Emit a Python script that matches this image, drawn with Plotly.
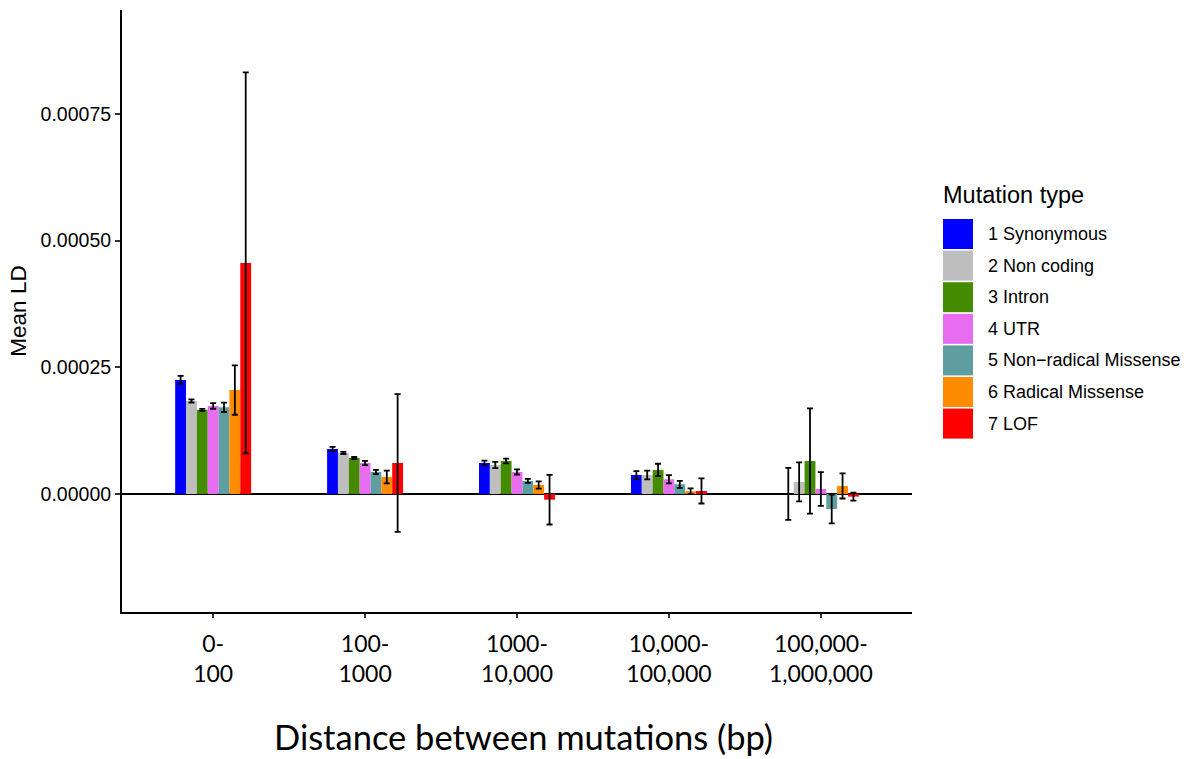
import plotly.graph_objects as go

categories = ["0-<br>100", "100-<br>1000", "1000-<br>10,000", "10,000-<br>100,000", "100,000-<br>1,000,000"]
series_names = ["1 Synonymous", "2 Non coding", "3 Intron", "4 UTR",
                "5 Non\u2212radical Missense", "6 Radical Missense", "7 LOF"]
series_colors = ["#0000FF", "#BEBEBE", "#458B00", "#E86CF0", "#5F9EA0", "#FF8C00", "#FF0000"]

synonymous = [0.000225, 0.0000888, 0.0000612, 0.0000375, 0.0]
synonymous_err = [0.000008, 0.000004, 0.0000046, 0.0000076, 0.0000513]
non_coding = [0.0001835, 0.0000809, 0.0000572, 0.0000375, 0.0000237]
non_coding_err = [0.000003, 0.000002, 0.0000062, 0.0000086, 0.0000385]
intron = [0.000166, 0.000071, 0.0000651, 0.0000474, 0.0000651]
intron_err = [0.000002, 0.000002, 0.0000046, 0.0000122, 0.000104]
utr = [0.0001737, 0.0000612, 0.0000434, 0.000029, 0.0000099]
utr_err = [0.0000055, 0.0000043, 0.000005, 0.0000082, 0.0000332]
non_radical = [0.000171, 0.0000434, 0.0000257, 0.0000191, -0.0000296]
non_radical_err = [0.0000092, 0.0000043, 0.000004, 0.0000069, 0.0000286]
radical = [0.000205, 0.0000335, 0.0000178, 0.0000053, 0.0000158]
radical_err = [0.0000487, 0.0000125, 0.0000072, 0.0000056, 0.0000247]
lof = [0.000456, 0.0000612, -0.0000112, 0.0000059, -0.0000052]
lof_err = [0.000376, 0.000136, 0.000049, 0.0000247, 0.0000079]

values = [synonymous, non_coding, intron, utr, non_radical, radical, lof]
errors = [synonymous_err, non_coding_err, intron_err, utr_err, non_radical_err, radical_err, lof_err]

y_tickvals = [0.0, 0.00025, 0.0005, 0.00075]
y_ticktext = ["0.00000", "0.00025", "0.00050", "0.00075"]

W, H = 1189, 759
L, R, T, B = 122, 912, 10, 612

fig = go.Figure()
x_idx = list(range(len(categories)))
for name, col, v, e in zip(series_names, series_colors, values, errors):
    fig.add_trace(go.Bar(
        x=x_idx, y=v, name=name, marker=dict(color=col, line=dict(width=0)),
        error_y=dict(type="data", array=e, color="black", thickness=1.8, width=3),
        showlegend=False,
    ))

def px_x(p):
    return (p - L) / (R - L)

def px_y(p):
    return (B - p) / (B - T)

shapes = []
annotations = []
# manual legend
sw_top = 219
pitch = 31.6
for i, (name, col) in enumerate(zip(series_names, series_colors)):
    y0 = sw_top + i * pitch
    y1 = y0 + 30
    shapes.append(dict(type="rect", xref="paper", yref="paper",
                       x0=px_x(943), x1=px_x(973), y0=px_y(y1), y1=px_y(y0),
                       fillcolor=col, line=dict(width=0)))
    annotations.append(dict(text=name, xref="paper", yref="paper",
                            x=px_x(986), y=px_y((y0 + y1) / 2), xanchor="left", yanchor="middle",
                            showarrow=False, font=dict(family="Liberation Sans", size=18, color="black")))
annotations.append(dict(text="Mutation type", xref="paper", yref="paper",
                        x=px_x(941), y=px_y(195), xanchor="left", yanchor="middle",
                        showarrow=False, font=dict(family="Liberation Sans", size=23.5, color="black")))
annotations.append(dict(text="Distance between mutations (bp)", xref="paper", yref="paper",
                        x=px_x(523), y=px_y(736), xanchor="center", yanchor="middle",
                        showarrow=False, borderpad=0,
                        font=dict(family="Lato", size=34.5, color="black")))

fig.update_layout(
    width=W, height=H,
    margin=dict(l=L, r=W - R, t=T, b=H - B, pad=0),
    paper_bgcolor="white", plot_bgcolor="white",
    barmode="group", bargap=0.5, bargroupgap=0,
    shapes=shapes, annotations=annotations,
    showlegend=False,
    xaxis=dict(range=[-0.6, 4.6], tickvals=x_idx, ticktext=categories,
               showgrid=False, zeroline=False, showline=True, linecolor="black", linewidth=2,
               ticks="outside", ticklen=4, tickcolor="#333333", tickwidth=1.5,
               ticklabelstandoff=6,
               tickfont=dict(family="Lato", size=23, color="black")),
    yaxis=dict(range=[-0.0002329, 0.000955], tickvals=y_tickvals, ticktext=y_ticktext,
               showgrid=False, zeroline=True, zerolinecolor="black", zerolinewidth=2,
               showline=True, linecolor="black", linewidth=2,
               ticks="outside", ticklen=5, tickcolor="#333333", tickwidth=1.5,
               tickfont=dict(family="Liberation Sans", size=19.5, color="black"),
               title=dict(text="Mean LD", font=dict(family="Liberation Sans", size=22.5, color="black"),
                          standoff=8)),
)

fig.write_html("out.html")
